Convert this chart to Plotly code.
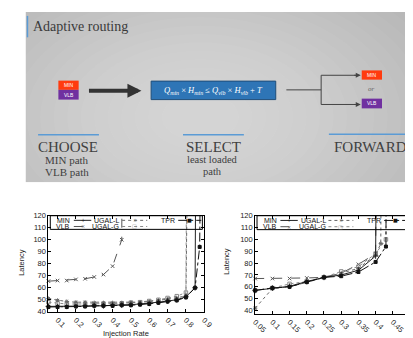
import plotly.graph_objects as go

W, H = 413, 338


def px(x):
    return x / W


def py(y):
    return 1 - y / H


# ---------------- data ----------------
left_rate = [0.05, 0.10, 0.15, 0.20, 0.25, 0.30, 0.35, 0.40, 0.45, 0.50,
             0.55, 0.60, 0.65, 0.70, 0.75, 0.80, 0.85, 0.90]
left_min = [44.5, 44.5, 44.5, 44.5, 45, 45, 45, 45.5, 45.5, 46,
            46.5, 47, 48, 49, 50, 52.5, 60, 1500]
left_vlb_rate = [0.05, 0.10, 0.15, 0.20, 0.25, 0.30, 0.35, 0.40, 0.45, 0.50]
left_vlb = [65.5, 66, 66, 67, 67.5, 69, 71, 78, 100, 2000]
left_ugal_l_rate = [0.05, 0.10, 0.15, 0.20, 0.25, 0.30, 0.35, 0.40, 0.45,
                    0.50, 0.55, 0.60, 0.65, 0.70, 0.75, 0.80, 0.85]
left_ugal_l = [51, 49.5, 48.5, 48, 48, 47.5, 47.5, 47.5, 47.5,
               48, 48, 48.5, 49.5, 50.5, 51.5, 53.5, 700]
left_ugal_g_rate = [0.05, 0.10, 0.15, 0.20, 0.25, 0.30, 0.35, 0.40, 0.45,
                    0.50, 0.55, 0.60, 0.65, 0.70, 0.75, 0.80, 0.85]
left_ugal_g = [48, 47, 46.5, 46.5, 46.5, 46.5, 46.5, 46.5, 47,
               47.5, 48, 49, 50, 51.5, 53, 56, 1500]
left_tpr_rate = [0.05, 0.10, 0.15, 0.20, 0.25, 0.30, 0.35, 0.40, 0.45,
                 0.50, 0.55, 0.60, 0.65, 0.70, 0.75, 0.80, 0.85, 0.875, 0.90]
left_tpr = [44, 44, 44, 44.5, 44.5, 45, 45, 45, 45.5,
            45.5, 46, 46.5, 47.5, 48.5, 49.5, 52, 60, 94, 500]

right_rate = [0.05, 0.10, 0.15, 0.20, 0.25, 0.30, 0.35, 0.40, 0.45]
right_min = [57, 59, 60.5, 64.5, 68, 70, 74, 86, 2000]
right_vlb = [67, 67, 67, 67.5, 68, 71.5, 79, 88, 2000]
right_ugal_l_rate = [0.05, 0.10, 0.15, 0.20, 0.25, 0.30, 0.35, 0.40, 0.415, 0.45]
right_ugal_l = [42, 58.5, 60, 64, 68, 71.5, 75.5, 87, 96.5, 2000]
right_ugal_g_rate = [0.05, 0.10, 0.15, 0.20, 0.25, 0.30, 0.35, 0.40, 0.43, 0.45]
right_ugal_g = [57, 59, 62.5, 64.5, 68, 73, 77, 88, 100, 2000]
right_tpr_rate = [0.05, 0.10, 0.15, 0.20, 0.25, 0.30, 0.35, 0.40, 0.43, 0.45]
right_tpr = [57, 59, 60, 64, 68, 69, 72.5, 81, 94, 2000]

left_xticks = [0.1, 0.2, 0.3, 0.4, 0.5, 0.6, 0.7, 0.8, 0.9]
left_xlabels = ["0.1", "0.2", "0.3", "0.4", "0.5", "0.6", "0.7", "0.8", "0.9"]
right_xticks = [0.05, 0.10, 0.15, 0.20, 0.25, 0.30, 0.35, 0.40, 0.45, 0.50]
right_xlabels = ["0.05", "0.1", "0.15", "0.2", "0.25", "0.3", "0.35", "0.4", "0.45", "0.5"]
yticks = [40, 50, 60, 70, 80, 90, 100, 110, 120]
ylabels = ["40", "50", "60", "70", "80", "90", "100", "110", "120"]

series_names = ["MIN", "VLB", "UGAL-L", "UGAL-G", "TPR"]

# ---------------- styles ----------------
STYLE = {
    "MIN": dict(color="#222222", dash="solid", symbol="cross-thin-open", size=4),
    "VLB": dict(color="#555555", dash="dash", symbol="x-thin-open", size=3.5),
    "UGAL-L": dict(color="#666666", dash="dot", symbol="asterisk-open", size=3.5),
    "UGAL-G": dict(color="#8a8a8a", dash="dot", symbol="square-open", size=3.5),
    "TPR": dict(color="#111111", dash="dashdot", symbol="square", size=3),
}

SERIF = "Liberation Serif"
SANS = "Liberation Sans"

fig = go.Figure()


def add_series(name, xs, ys, xa, ya):
    st = STYLE[name]
    fig.add_trace(go.Scatter(
        x=xs, y=ys, name=name, mode="lines+markers", xaxis=xa, yaxis=ya,
        cliponaxis=False, showlegend=False,
        line=dict(color=st["color"], width=1, dash=st["dash"]),
        marker=dict(symbol=st["symbol"], size=st["size"], color=st["color"],
                    line=dict(color=st["color"], width=1)),
    ))


add_series("VLB", left_vlb_rate, left_vlb, "x", "y")
add_series("UGAL-G", left_ugal_g_rate, left_ugal_g, "x", "y")
add_series("UGAL-L", left_ugal_l_rate, left_ugal_l, "x", "y")
add_series("MIN", left_rate, left_min, "x", "y")
add_series("TPR", left_tpr_rate, left_tpr, "x", "y")

add_series("VLB", right_rate, right_vlb, "x2", "y2")
add_series("UGAL-G", right_ugal_g_rate, right_ugal_g, "x2", "y2")
add_series("UGAL-L", right_ugal_l_rate, right_ugal_l, "x2", "y2")
add_series("MIN", right_rate, right_min, "x2", "y2")
add_series("TPR", right_tpr_rate, right_tpr, "x2", "y2")

shapes = []
annotations = []


def txt(x, y, s, size, color="#404040", family=SERIF, xanchor="center",
        yanchor="middle", **kw):
    annotations.append(dict(x=px(x), y=py(y), xref="paper", yref="paper",
                            text=s, showarrow=False,
                            font=dict(size=size, color=color, family=family),
                            xanchor=xanchor, yanchor=yanchor, **kw))


def rect(x0, y0, x1, y1, fill, line_color=None, lw=0, opacity=1, kind="rect"):
    shapes.append(dict(type=kind, xref="paper", yref="paper",
                       x0=px(x0), x1=px(x1), y0=py(y1), y1=py(y0),
                       fillcolor=fill, opacity=opacity, layer="below",
                       line=dict(color=line_color or fill, width=lw)))


def line(x0, y0, x1, y1, color, width, layer="below"):
    shapes.append(dict(type="line", xref="paper", yref="paper",
                       x0=px(x0), x1=px(x1), y0=py(y0), y1=py(y1),
                       layer=layer, line=dict(color=color, width=width)))


# ---------------- slide background (soft radial gradient) ----------------
rect(14, 0, 413, 175, "#b0b0b0")
cx, cy = 195, 108
for k in range(19, -1, -1):
    rx = 40 + 14 * k
    ry = rx * 0.62
    rect(cx - rx, cy - ry, cx + rx, cy + ry, "white", opacity=0.04, kind="circle")
# white page outside the slide
rect(0, 0, 14, 338, "white")
rect(0, 175, 413, 338, "white")

# title
line(16, 4, 16, 26, "#5b9bd5", 1.5)
txt(20, 15, "Adaptive routing", 14, "#3a3a3a", xanchor="left")

# CHOOSE: MIN / VLB boxes
rect(48, 70.5, 69, 80, "#ff3b0f")
rect(48, 80, 69, 90, "#7030a0")
txt(58.5, 75.5, "MIN", 5, "white", family=SANS)
txt(58.5, 85, "VLB", 5, "white", family=SANS)

# thick arrow
annotations.append(dict(x=px(134), y=py(81), xref="paper", yref="paper",
                        ax=-54, ay=0, text="", showarrow=True,
                        arrowhead=2, arrowsize=0.7, arrowwidth=4,
                        arrowcolor="#333333"))

# formula box
rect(144, 71, 273, 90, "#2e75b6", "#1f4e79", 1)
txt(208.5, 80.5,
    "<i>Q</i><sub><i>min</i></sub> × <i>H</i><sub><i>min</i></sub> ≤ "
    "<i>Q</i><sub><i>vlb</i></sub> × <i>H</i><sub><i>vlb</i></sub> + <i>T</i>",
    8.5, "white")

# fork to FORWARD
line(284, 80, 320, 80, "#444444", 1)
line(320, 65, 320, 95, "#444444", 1)
line(320, 65, 357, 65, "#444444", 1)
line(320, 95, 357, 95, "#444444", 1)
for yy in (65, 95):
    annotations.append(dict(x=px(361), y=py(yy), xref="paper", yref="paper",
                            ax=-8, ay=0, text="", showarrow=True,
                            arrowhead=2, arrowsize=1, arrowwidth=1,
                            arrowcolor="#444444"))
rect(362, 60, 383, 69.5, "#ff3b0f")
rect(362, 89, 383, 99, "#7030a0")
txt(372.5, 65, "MIN", 5, "white", family=SANS)
txt(372.5, 94, "VLB", 5, "white", family=SANS)
txt(372.5, 79.5, "<i>or</i>", 7, "#666666")

# headings
line(27, 126, 90, 126, "#5b9bd5", 1.5)
line(177, 126, 240, 126, "#5b9bd5", 1.5)
line(328, 125.5, 413, 125.5, "#5b9bd5", 1.5)
txt(58, 139, "CHOOSE", 15)
txt(57, 152.5, "MIN path", 11)
txt(57, 164.5, "VLB path", 11)
txt(209, 139, "SELECT", 15)
txt(208, 152, "least loaded", 10.5)
txt(208, 164, "path", 10.5)
txt(371, 139, "FORWARD", 15)

# ---------------- manual gnuplot-style keys ----------------
GLYPH = {"MIN": "+", "VLB": "×", "UGAL-L": "∗", "UGAL-G": "□", "TPR": "■"}
KEYPOS = {  # (text right edge, line start, line end, row y) in axis-domain fractions
    "MIN": (0.148, 0.163, 0.275, 0.952),
    "UGAL-L": (0.461, 0.473, 0.634, 0.952),
    "TPR": (0.82, 0.833, 0.981, 0.952),
    "VLB": (0.148, 0.163, 0.275, 0.888),
    "UGAL-G": (0.461, 0.473, 0.634, 0.888),
}
for xr, yr in (("x domain", "y domain"), ("x2 domain", "y2 domain")):
    shapes.append(dict(type="rect", xref=xr, yref=yr, x0=0.012, x1=0.988,
                       y0=0.858, y1=1.0, layer="above",
                       line=dict(color="black", width=1)))
    for name in series_names:
        st = STYLE[name]
        tx, l0, l1, ry = KEYPOS[name]
        annotations.append(dict(x=tx, y=ry, xref=xr, yref=yr, text=name,
                                showarrow=False, xanchor="right",
                                yanchor="middle", borderpad=0,
                                font=dict(size=7, family=SANS, color="#111")))
        shapes.append(dict(type="line", xref=xr, yref=yr, x0=l0, x1=l1,
                           y0=ry, y1=ry, layer="above",
                           line=dict(color=st["color"], width=1,
                                     dash=st["dash"])))
        annotations.append(dict(x=(l0 + l1) / 2, y=ry, xref=xr, yref=yr,
                                text=GLYPH[name], showarrow=False,
                                xanchor="center", yanchor="middle",
                                borderpad=0,
                                font=dict(size=5, family="DejaVu Sans",
                                          color=st["color"])))

# axis titles
txt(9, 257, "Latency", 7.5, "#222", family=SANS, textangle=-90)
txt(117.5, 330, "Injection Rate", 7.5, "#222", family=SANS)
txt(222, 256, "Latency", 7.5, "#222", family=SANS, textangle=-90)
txt(331, 336, "Injection Rate", 7.5, "#222", family=SANS, yanchor="top")

axis_common = dict(showline=True, linecolor="black", linewidth=1,
                   mirror="ticks", ticks="inside", ticklen=3,
                   tickcolor="black", tickwidth=1, showgrid=False,
                   zeroline=False,
                   tickfont=dict(family=SANS, size=7.5, color="#222"))

fig.update_layout(
    width=W, height=H, autosize=False,
    margin=dict(l=0, r=0, t=0, b=0),
    paper_bgcolor="white", plot_bgcolor="rgba(0,0,0,0)",
    showlegend=False,
    xaxis=dict(domain=[px(37.7), px(199)], range=[0.05, 0.9], anchor="y",
               tickmode="array", tickvals=left_xticks, ticktext=left_xlabels,
               tickangle=45, **axis_common),
    yaxis=dict(domain=[py(308), py(209.3)], range=[40, 120], anchor="x",
               tickmode="array", tickvals=yticks, ticktext=ylabels,
               **axis_common),
    xaxis2=dict(domain=[px(251.7), px(412)], range=[0.05, 0.5], anchor="y2",
                tickmode="array", tickvals=right_xticks,
                ticktext=right_xlabels, tickangle=45, **axis_common),
    yaxis2=dict(domain=[py(310), py(209.3)], range=[37.3, 120], anchor="x2",
                tickmode="array", tickvals=yticks, ticktext=ylabels,
                **axis_common),
    shapes=shapes,
    annotations=annotations,
)

fig.write_html("out.html")
